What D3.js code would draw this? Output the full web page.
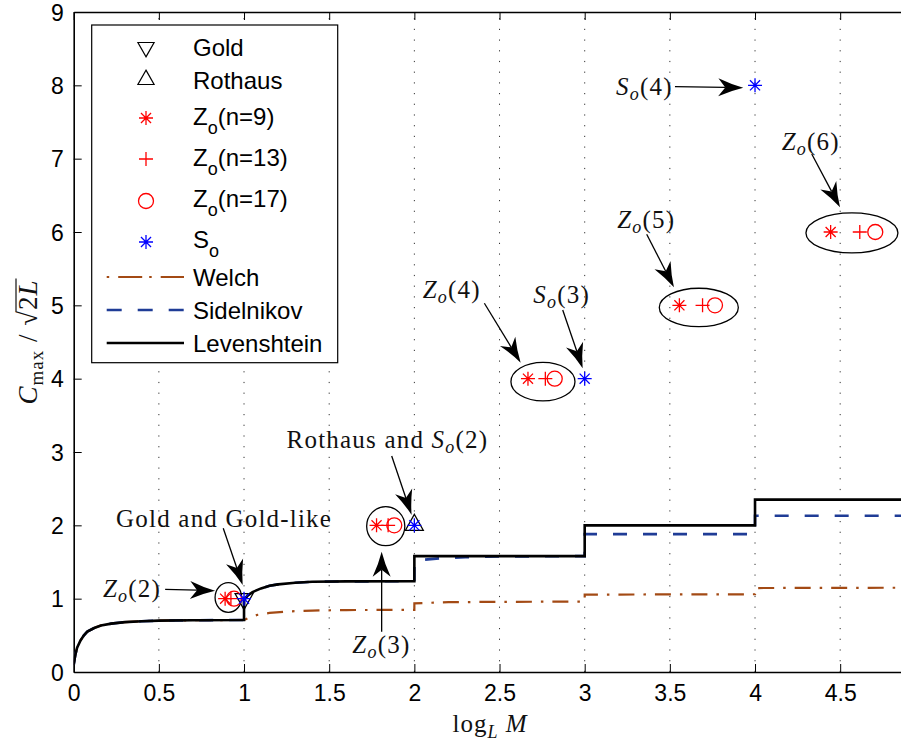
<!DOCTYPE html>
<html><head><meta charset="utf-8">
<script src="https://cdn.jsdelivr.net/npm/d3@7"></script>
<style>body{margin:0;background:#fff} svg{display:block}</style>
</head><body>
<svg id="chart" width="901" height="744"></svg>
<script>
// ---------------- data ----------------
const xTicks = [0, 0.5, 1, 1.5, 2, 2.5, 3, 3.5, 4, 4.5];
const yTicks = [0, 1, 2, 3, 4, 5, 6, 7, 8, 9];

const levenshtein = [[0,0.1],[0.01,0.24],[0.02,0.33],[0.04,0.43],[0.06,0.5],[0.08,0.55],[0.12,0.6],[0.16,0.635],[0.22,0.66],[0.3,0.68],[0.4,0.693],[0.5,0.7],[0.7,0.706],[1,0.71],
  [1,0.98],[1.02,1.04],[1.05,1.09],[1.1,1.14],[1.15,1.175],[1.2,1.195],[1.3,1.218],[1.4,1.23],[1.6,1.236],[2,1.237],
  [2,1.58],[3,1.58],[3,2.0],[4,2.0],[4,2.35],[5,2.35]];
const sidelnikov = [[0,0.1],[0.01,0.24],[0.02,0.33],[0.04,0.43],[0.06,0.5],[0.08,0.55],[0.12,0.6],[0.16,0.635],[0.22,0.66],[0.3,0.68],[0.4,0.693],[0.5,0.7],[0.7,0.706],[1,0.71],
  [1,0.98],[1.02,1.04],[1.05,1.09],[1.1,1.14],[1.15,1.175],[1.2,1.195],[1.3,1.218],[1.4,1.23],[1.6,1.236],[2,1.237],
  [2,1.5],[2.05,1.53],[2.15,1.55],[2.3,1.565],[2.5,1.575],[3,1.58],[3,1.88],[4,1.88],[4,2.13],[5,2.13]];
const welch = [[0,0.1],[0.01,0.24],[0.02,0.33],[0.04,0.43],[0.06,0.5],[0.08,0.55],[0.12,0.6],[0.16,0.635],[0.22,0.66],[0.3,0.68],[0.4,0.693],[0.5,0.7],[0.7,0.706],[1,0.71],
  [1.04,0.75],[1.08,0.78],[1.15,0.805],[1.25,0.825],[1.4,0.838],[1.6,0.845],[2,0.847],
  [2,0.937],[2.2,0.952],[2.5,0.957],[3,0.96],[3,1.055],[3.5,1.058],[4,1.06],[4,1.145],[5,1.15]];

const goldPts    = [[1,1]];
const rothausPts = [[2,2]];
const zo9  = [[0.889,1],[1.778,2],[2.667,4],[3.556,5],[4.444,6]];
const zo13 = [[0.923,1],[1.846,2],[2.769,4],[3.692,5],[4.615,6]];
const zo17 = [[0.941,1],[1.882,2],[2.824,4],[3.765,5],[4.706,6]];
const soPts = [[1,1],[2,2],[3,4],[4,8]];

const legendLabels = ['Gold','Rothaus','Z_o(n=9)','Z_o(n=13)','Z_o(n=17)','S_o','Welch','Sidelnikov','Levenshtein'];

const ellipses = [
  {cx:0.908, cy:1.016, rx:0.078, ry:0.202},
  {cx:1.832, cy:1.988, rx:0.112, ry:0.266},
  {cx:2.755, cy:3.959, rx:0.188, ry:0.263},
  {cx:3.670, cy:4.971, rx:0.232, ry:0.262},
  {cx:4.569, cy:5.987, rx:0.270, ry:0.273}
];

const annotations = [
  {pre:'', sym:'Z', arg:'(2)', tx:0.172, ty:1.027, x1:0.537, y1:1.128, x2:0.830, y2:1.109},
  {pre:'Gold and Gold-like', sym:'', arg:'', tx:0.249, ty:1.982, x1:0.878, y1:1.960, x2:0.992, y2:1.186},
  {pre:'Rothaus and ', sym:'S', arg:'(2)', tx:1.250, ty:3.051, x1:1.867, y1:2.946, x2:1.984, y2:2.141},
  {pre:'', sym:'Z', arg:'(3)', tx:1.636, ty:0.255, x1:1.808, y1:0.550, x2:1.808, y2:1.641},
  {pre:'', sym:'Z', arg:'(4)', tx:2.049, ty:5.096, x1:2.411, y1:5.028, x2:2.624, y2:4.218},
  {pre:'', sym:'S', arg:'(3)', tx:2.698, ty:5.028, x1:2.871, y1:4.937, x2:2.988, y2:4.142},
  {pre:'', sym:'Z', arg:'(5)', tx:3.191, ty:6.051, x1:3.364, y1:5.969, x2:3.524, y2:5.246},
  {pre:'', sym:'S', arg:'(4)', tx:3.184, ty:7.868, x1:3.530, y1:7.982, x2:3.931, y2:7.968},
  {pre:'', sym:'Z', arg:'(6)', tx:4.157, ty:7.118, x1:4.333, y1:7.064, x2:4.499, y2:6.337}
];

// ---------------- drawing ----------------
const W = 901, H = 744;
const svg = d3.select('#chart');
const x = d3.scaleLinear().domain([0, 5]).range([73.7, 73.7 + 5 * 170.33]);
const y = d3.scaleLinear().domain([0, 9]).range([672, 12]);
const SANS = "'Liberation Sans', Arial, Helvetica, sans-serif";
const SERIF = "'Liberation Serif', 'DejaVu Serif', serif";
const RED = '#ff0000', BLUE = '#0000ff';
const WELCH_C = '#a34a14', SID_C = '#1f3c96';

svg.append('defs').append('clipPath').attr('id', 'clip')
  .append('rect').attr('x', x(0)).attr('y', y(9)).attr('width', W - x(0)).attr('height', y(0) - y(9));

// grid
svg.append('g').selectAll('line').data(xTicks.filter(d => d > 0)).join('line')
  .attr('x1', d => x(d)).attr('x2', d => x(d)).attr('y1', y(0)).attr('y2', y(9))
  .attr('stroke', '#333').attr('stroke-width', 1).attr('stroke-dasharray', '1.2,9.5');

// axes
const fmt = d => String(d);
const gx = svg.append('g').attr('transform', `translate(0,${y(0)})`)
  .call(d3.axisBottom(x).tickValues(xTicks).tickSizeInner(-8).tickSizeOuter(0).tickPadding(13).tickFormat(fmt));
const gxt = svg.append('g').attr('transform', `translate(0,${y(9)})`)
  .call(d3.axisTop(x).tickValues(xTicks).tickSizeInner(-8).tickSizeOuter(0).tickFormat(''));
const gy = svg.append('g').attr('transform', `translate(${x(0)},0)`)
  .call(d3.axisLeft(y).tickValues(yTicks).tickSizeInner(-8).tickSizeOuter(0).tickPadding(10).tickFormat(fmt));
[gx, gxt, gy].forEach(g => {
  g.selectAll('.domain').attr('stroke', '#000').attr('stroke-width', 1.6);
  g.selectAll('.tick line').attr('stroke', '#000').attr('stroke-width', 1);
  g.selectAll('text').style('font-family', SANS).style('font-size', '23px').attr('fill', '#000');
});
gy.selectAll('.tick text').attr('dy', '0.36em');

// lines
const line = d3.line().x(d => x(d[0])).y(d => y(d[1]));
const plot = svg.append('g').attr('clip-path', 'url(#clip)');
plot.append('path').datum(welch).attr('d', line).attr('fill', 'none')
  .attr('stroke', WELCH_C).attr('stroke-width', 2.2).attr('stroke-dasharray', '16,9,2.5,9');
plot.append('path').datum(sidelnikov).attr('d', line).attr('fill', 'none')
  .attr('stroke', SID_C).attr('stroke-width', 2.6).attr('stroke-dasharray', '14,16');
plot.append('path').datum(levenshtein).attr('d', line).attr('fill', 'none')
  .attr('stroke', '#000').attr('stroke-width', 2.6);

// marker helpers
function asterisk(g, cx, cy, r, color) {
  const d = r * 0.72;
  const p = `M${cx - r},${cy}L${cx + r},${cy}M${cx},${cy - r}L${cx},${cy + r}M${cx - d},${cy - d}L${cx + d},${cy + d}M${cx - d},${cy + d}L${cx + d},${cy - d}`;
  g.append('path').attr('d', p).attr('stroke', color).attr('stroke-width', 1.3).attr('fill', 'none');
}
function plus(g, cx, cy, r, color) {
  g.append('path').attr('d', `M${cx - r},${cy}L${cx + r},${cy}M${cx},${cy - r}L${cx},${cy + r}`)
    .attr('stroke', color).attr('stroke-width', 1.3).attr('fill', 'none');
}
function circ(g, cx, cy, r, color) {
  g.append('circle').attr('cx', cx).attr('cy', cy).attr('r', r).attr('stroke', color).attr('stroke-width', 1.3).attr('fill', 'none');
}
function tri(g, cx, cy, up, s) {
  s = s || 1;
  const p = up ? `M${cx},${cy - 11 * s}L${cx + 9 * s},${cy + 5 * s}L${cx - 9 * s},${cy + 5 * s}Z`
               : `M${cx},${cy + 11 * s}L${cx + 9 * s},${cy - 5 * s}L${cx - 9 * s},${cy - 5 * s}Z`;
  g.append('path').attr('d', p).attr('stroke', '#000').attr('stroke-width', 1.2).attr('fill', 'none');
}

// ellipses
const eg = svg.append('g');
ellipses.forEach(e => {
  eg.append('ellipse').attr('cx', x(e.cx)).attr('cy', y(e.cy))
    .attr('rx', x(e.rx) - x(0)).attr('ry', y(0) - y(e.ry))
    .attr('fill', 'none').attr('stroke', '#000').attr('stroke-width', 1.3);
});

// markers
const mg = svg.append('g');
goldPts.forEach(d => tri(mg, x(d[0]), y(d[1]), false));
rothausPts.forEach(d => tri(mg, x(d[0]), y(d[1]), true));
zo9.forEach(d => asterisk(mg, x(d[0]), y(d[1]), 7, RED));
zo13.forEach(d => plus(mg, x(d[0]), y(d[1]), 7, RED));
zo17.forEach(d => circ(mg, x(d[0]), y(d[1]), 7.5, RED));
soPts.forEach(d => asterisk(mg, x(d[0]), y(d[1]), 7, BLUE));

// annotations
const ag = svg.append('g');
const headPath = 'M0,0 Q-12,-3 -25,-9 L-18,0 L-25,9 Q-12,3 0,0Z';
annotations.forEach(a => {
  const X1 = x(a.x1), Y1 = y(a.y1), X2 = x(a.x2), Y2 = y(a.y2);
  const ang = Math.atan2(Y2 - Y1, X2 - X1);
  const bx = X2 - 18 * Math.cos(ang), by = Y2 - 18 * Math.sin(ang);
  ag.append('line').attr('x1', X1).attr('y1', Y1).attr('x2', bx).attr('y2', by)
    .attr('stroke', '#000').attr('stroke-width', 1.3);
  ag.append('path').attr('d', headPath).attr('fill', '#000')
    .attr('transform', `translate(${X2},${Y2}) rotate(${ang * 180 / Math.PI})`);
  const t = ag.append('text').attr('x', x(a.tx)).attr('y', y(a.ty))
    .style('font-family', SERIF).style('font-size', '25px').style('letter-spacing', '1.2px').attr('fill', '#111');
  if (a.pre) t.append('tspan').text(a.pre);
  if (a.sym) {
    t.append('tspan').attr('font-style', 'italic').text(a.sym);
    t.append('tspan').attr('font-style', 'italic').attr('font-size', '18px').attr('dy', 5).text('o');
    t.append('tspan').attr('dy', -5).text(a.arg);
  }
});

// legend
const lg = svg.append('g');
const LX = 91.7, LY = 25, LW = 246, LH = 337.7;
lg.append('rect').attr('x', LX).attr('y', LY).attr('width', LW).attr('height', LH)
  .attr('fill', '#fff').attr('stroke', '#000').attr('stroke-width', 1.2);
let cy = 47;
legendLabels.forEach((lab, i) => {
  const hasSub = lab.includes('_o');
  if (i > 0) {
    const prevSub = legendLabels[i - 1].includes('_o');
    cy += ((prevSub ? 41 : 33) + (hasSub ? 41 : 33)) / 2;
  }
  const mx = 146;
  if (i === 0) tri(lg, mx, cy, false, 0.9);
  if (i === 1) tri(lg, mx, cy, true, 0.9);
  if (i === 2) asterisk(lg, mx, cy + 1, 7, RED);
  if (i === 3) plus(lg, mx, cy + 1, 7, RED);
  if (i === 4) circ(lg, mx, cy + 2, 7.5, RED);
  if (i === 5) asterisk(lg, mx, cy + 2, 7, BLUE);
  if (i >= 6) {
    const st = [[WELCH_C, '2.5,9,24,7', 2.2], [SID_C, '15,16', 2.6], ['#000', null, 2.6]][i - 6];
    const l = lg.append('line').attr('x1', 106.7).attr('x2', 184).attr('y1', cy).attr('y2', cy)
      .attr('stroke', st[0]).attr('stroke-width', st[2]);
    if (st[1]) l.attr('stroke-dasharray', st[1]);
  }
  const t = lg.append('text').attr('x', 193).attr('y', (hasSub ? cy - 1 : cy) + 8.5)
    .style('font-family', SANS).style('font-size', '24px').attr('fill', '#000');
  if (hasSub) {
    const [a, b] = lab.split('_o');
    t.append('tspan').text(a);
    t.append('tspan').attr('font-size', '18px').attr('dy', 9).text('o');
    t.append('tspan').attr('dy', -9).text(b);
  } else t.text(lab);
});

// x label
const xl = svg.append('text').attr('x', 490).attr('y', 732).attr('text-anchor', 'middle')
  .style('font-family', SERIF).style('font-size', '25px').style('letter-spacing', '1px').attr('fill', '#111');
xl.append('tspan').text('log');
xl.append('tspan').attr('font-style', 'italic').attr('font-size', '18px').attr('dy', 6).text('L');
xl.append('tspan').attr('dy', -6).text(' ');
xl.append('tspan').attr('font-style', 'italic').text('M');

// y label
const ylg = svg.append('g').attr('transform', `translate(37,${(y(0) + y(9)) / 2}) rotate(-90)`);
const ylt = ylg.append('text').attr('text-anchor', 'middle')
  .style('font-family', SERIF).style('font-size', '27px').style('letter-spacing', '1px').attr('fill', '#111');
ylt.append('tspan').attr('font-style', 'italic').text('C');
ylt.append('tspan').attr('font-size', '19px').attr('dy', 6).text('max');
ylt.append('tspan').attr('dy', -6).text(' / √');
ylt.append('tspan').text('2');
ylt.append('tspan').attr('font-style', 'italic').text('L');
const node = ylt.node();
const sx = node.getEndPositionOfChar(7).x - 1.5;
const ex = node.getEndPositionOfChar(9).x + 1;
ylg.append('line').attr('x1', sx).attr('x2', ex).attr('y1', -21).attr('y2', -21)
  .attr('stroke', '#111').attr('stroke-width', 1.2);
</script>
</body></html>
